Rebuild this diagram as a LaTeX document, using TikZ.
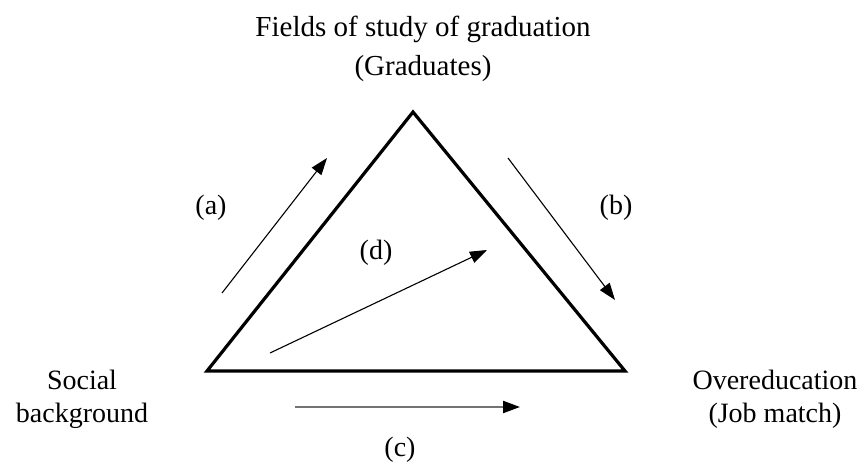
\documentclass[tikz,border=0pt]{standalone}
\usepackage{fontspec}
\setmainfont{Liberation Serif}
\usetikzlibrary{arrows.meta}
\tikzset{
  lbl/.style={font=\fontsize{28}{33}\selectfont, inner sep=0pt, align=center},
  effect/.style={line width=1.1pt, -{Triangle[length=17pt,width=12pt]}},
}
\begin{document}
\begin{tikzpicture}[x=1pt,y=-1pt]
  \useasboundingbox (0,0) rectangle (862,462);

  % Triángulo
  \coordinate (top) at (413,112);
  \coordinate (left) at (207,371);
  \coordinate (right) at (625,371);
  \draw[line width=3.2pt, line join=miter] (left) -- (top) -- (right) -- cycle;

  % Vértices
  \node[lbl, font=\fontsize{29}{39}\selectfont, anchor=base] (field) at (423,76) {Fields of study of graduation\\(Graduates)};
  \node[lbl, anchor=base] (social) at (82,422) {Social\\background};
  \node[lbl, anchor=base] (overedu) at (775,422) {Overeducation\\(Job match)};

  % Flechas
  \coordinate (a0) at (222,293);
  \coordinate (a1) at (327,158);
  \coordinate (b0) at (508,158);
  \coordinate (b1) at (615,300);
  \coordinate (c0) at (295,407);
  \coordinate (c1) at (520,407);
  \coordinate (d0) at (270,353);
  \coordinate (d1) at (487,250);
  \draw[effect] (a0) -- (a1);
  \draw[effect] (b0) -- (b1);
  \draw[line width=2.2pt, draw=black!55, -{Triangle[length=17pt,width=12pt,color=black]}] (c0) -- (c1);
  \draw[effect] (d0) -- (d1);

  % Etiquetas
  \node[lbl, anchor=base] (la) at (211,215) {(a)};
  \node[lbl, anchor=base] (lb) at (616,215) {(b)};
  \node[lbl, anchor=base] (lc) at (400,456) {(c)};
  \node[lbl, anchor=base] (ld) at (376,260) {(d)};
\end{tikzpicture}
\end{document}
